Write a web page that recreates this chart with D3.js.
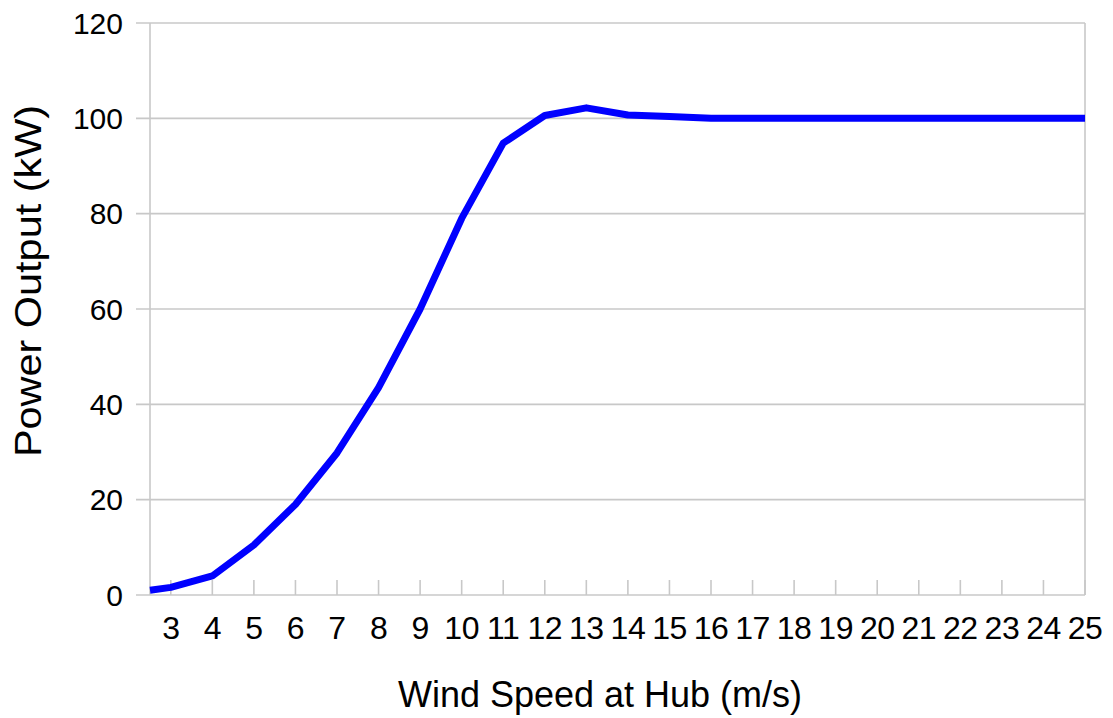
<!DOCTYPE html>
<html>
<head>
<meta charset="utf-8">
<script src="https://cdn.jsdelivr.net/npm/d3@7"></script>
<style>
  html, body { margin: 0; padding: 0; background: #ffffff; }
  svg { display: block; font-family: "Liberation Sans", Arial, sans-serif; }
</style>
</head>
<body>
<svg id="chart" width="1113" height="718"></svg>
<script>
// Data
const windSpeed = [2.5, 3, 4, 5, 6, 7, 8, 9, 10, 11, 12, 13, 14, 15, 16, 17, 18, 19, 20, 21, 22, 23, 24, 25];
const powerKW   = [1, 1.6, 4, 10.5, 19, 29.8, 43.5, 60, 79, 94.8, 100.6, 102.2, 100.7, 100.4, 100, 100, 100, 100, 100, 100, 100, 100, 100, 100];
const xTickValues = [3, 4, 5, 6, 7, 8, 9, 10, 11, 12, 13, 14, 15, 16, 17, 18, 19, 20, 21, 22, 23, 24, 25];
const yTickValues = [0, 20, 40, 60, 80, 100, 120];
const xTitle = "Wind Speed at Hub (m/s)";
const yTitle = "Power Output (kW)";

(function () {
const svg = d3.select("#chart");
const plotLeft = 150, plotRight = 1085, plotTop = 23, plotBottom = 595;

const x = d3.scaleLinear().domain([2.5, 25]).range([plotLeft, plotRight]);
const y = d3.scaleLinear().domain([0, 120]).range([plotBottom, plotTop]);

const gridColor = "#c8c8c8";

// horizontal grid lines with outer ticks
svg.append("g").selectAll("line").data(yTickValues).join("line")
  .attr("x1", plotLeft - 14).attr("x2", plotRight)
  .attr("y1", d => y(d)).attr("y2", d => y(d))
  .attr("stroke", gridColor).attr("stroke-width", 1.6);

// y axis line and right border
svg.append("line").attr("x1", plotLeft).attr("x2", plotLeft).attr("y1", plotTop).attr("y2", plotBottom)
  .attr("stroke", gridColor).attr("stroke-width", 1.6);
svg.append("line").attr("x1", plotRight).attr("x2", plotRight).attr("y1", plotTop).attr("y2", plotBottom)
  .attr("stroke", gridColor).attr("stroke-width", 1.6);

// x axis ticks (inner)
svg.append("g").selectAll("line").data(xTickValues).join("line")
  .attr("x1", d => x(d)).attr("x2", d => x(d))
  .attr("y1", plotBottom).attr("y2", plotBottom - 15)
  .attr("stroke", gridColor).attr("stroke-width", 1.6);

// y tick labels
svg.append("g").selectAll("text").data(yTickValues).join("text")
  .attr("x", 123).attr("y", d => y(d))
  .attr("dy", "0.36em")
  .attr("text-anchor", "end")
  .attr("font-size", 30)
  .attr("fill", "#000")
  .text(d => d);

// x tick labels
svg.append("g").selectAll("text").data(xTickValues).join("text")
  .attr("x", d => x(d)).attr("y", 639)
  .attr("text-anchor", "middle")
  .attr("font-size", 32)
  .attr("letter-spacing", -0.5)
  .attr("fill", "#000")
  .text(d => d);

// line
const line = d3.line().x((d, i) => x(windSpeed[i])).y(d => y(d));
svg.append("path").datum(powerKW)
  .attr("d", line)
  .attr("fill", "none")
  .attr("stroke", "#0000ff")
  .attr("stroke-width", 7)
  .attr("stroke-linejoin", "round");

// titles
svg.append("text")
  .attr("x", 600).attr("y", 707)
  .attr("text-anchor", "middle")
  .attr("font-size", 36)
  .attr("fill", "#000")
  .text(xTitle);

svg.append("text")
  .attr("transform", "translate(41,281) rotate(-90) scale(1.12,1)")
  .attr("text-anchor", "middle")
  .attr("font-size", 37)
  .attr("fill", "#000")
  .text(yTitle);
})();
</script>
</body>
</html>
